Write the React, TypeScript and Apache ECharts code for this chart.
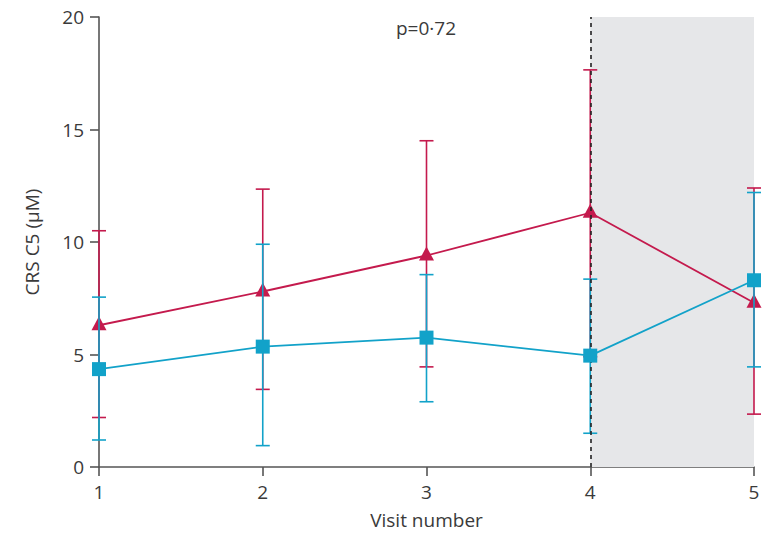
import React, { useEffect, useRef } from "react";
import * as echarts from "echarts";

const visits = [1, 2, 3, 4, 5];
const redMean = [6.3, 7.8, 9.4, 11.3, 7.3];
const redUpper = [10.5, 12.35, 14.5, 17.65, 12.4];
const redLower = [2.2, 3.45, 4.45, 4.9, 2.35];
const blueMean = [4.35, 5.35, 5.75, 4.95, 8.3];
const blueUpper = [7.55, 9.9, 8.55, 8.35, 12.2];
const blueLower = [1.2, 0.95, 2.9, 1.5, 4.45];
const yTicks = [0, 5, 10, 15, 20];
const pText = "p=0·72";

const RED = "#c41a4d";
const BLUE = "#12a2c9";
const FONT = "Open Sans";
const TXT = "#3a3a3a";
const FS = 19;

function errorSeries(upper: number[], lower: number[], color: string, z: number) {
  return {
    type: "custom",
    z,
    silent: true,
    data: visits.map((v, i) => [v, lower[i], upper[i]]),
    encode: { x: 0, y: [1, 2] },
    renderItem: (params: any, api: any) => {
      const x = api.value(0);
      const lo = api.coord([x, api.value(1)]);
      const hi = api.coord([x, api.value(2)]);
      const hw = 7;
      const style = { stroke: color, lineWidth: 1.6 };
      return {
        type: "group",
        children: [
          { type: "line", shape: { x1: lo[0], y1: lo[1], x2: hi[0], y2: hi[1] }, style },
          { type: "line", shape: { x1: lo[0] - hw, y1: lo[1], x2: lo[0] + hw, y2: lo[1] }, style },
          { type: "line", shape: { x1: hi[0] - hw, y1: hi[1], x2: hi[0] + hw, y2: hi[1] }, style },
        ],
      };
    },
  };
}

export default function App() {
  const ref = useRef<HTMLDivElement>(null);
  useEffect(() => {
    if (!ref.current) return;
    const chart = echarts.init(ref.current, null, { renderer: "svg" });
    chart.setOption({
      animation: false,
      textStyle: { fontFamily: FONT },
      grid: { left: 99, right: 14, top: 17, bottom: 66 },
      xAxis: {
        type: "value",
        min: 1,
        max: 5,
        interval: 1,
        name: "Visit number",
        nameLocation: "middle",
        nameGap: 43,
        nameTextStyle: { color: TXT, fontSize: FS, fontFamily: FONT },
        axisLine: { show: true, lineStyle: { color: "#555", width: 1.6 } },
        axisTick: { show: true, length: 9, lineStyle: { color: "#555", width: 1.6 } },
        axisLabel: { color: TXT, fontSize: FS, margin: 15, fontFamily: FONT },
        splitLine: { show: false },
      },
      yAxis: {
        type: "value",
        min: yTicks[0],
        max: yTicks[yTicks.length - 1],
        interval: 5,
        name: "CRS C5 (μM)",
        nameLocation: "middle",
        nameGap: 58,
        nameRotate: 90,
        nameTextStyle: { color: TXT, fontSize: FS, fontFamily: FONT },
        axisLine: { show: true, lineStyle: { color: "#555", width: 1.6 } },
        axisTick: { show: true, length: 9, lineStyle: { color: "#555", width: 1.6 } },
        axisLabel: { color: TXT, fontSize: FS, margin: 15, fontFamily: FONT },
        splitLine: { show: false },
      },
      graphic: [
        {
          type: "text",
          left: 396,
          top: 18,
          style: { text: pText, fontSize: FS, fill: TXT, fontFamily: FONT },
        },
      ],
      series: [
        {
          type: "line",
          data: [],
          z: 0,
          silent: true,
          markArea: {
            silent: true,
            itemStyle: { color: "#e6e7e9" },
            data: [[{ xAxis: 4, yAxis: 0 }, { xAxis: 5, yAxis: 20 }]],
          },
        },
        errorSeries(redUpper, redLower, RED, 2),
        {
          type: "line",
          z: 3,
          data: visits.map((v, i) => [v, redMean[i]]),
          symbol: "triangle",
          symbolSize: [15, 14],
          symbolOffset: [0, -2],
          itemStyle: { color: RED },
          lineStyle: { color: RED, width: 1.8 },
        },
        errorSeries(blueUpper, blueLower, BLUE, 4),
        {
          type: "line",
          z: 5,
          data: visits.map((v, i) => [v, blueMean[i]]),
          symbol: "rect",
          symbolSize: 14,
          itemStyle: { color: BLUE },
          lineStyle: { color: BLUE, width: 1.8 },
        },
        {
          type: "line",
          data: [],
          z: 6,
          markLine: {
            silent: true,
            symbol: "none",
            label: { show: false },
            lineStyle: { color: "#222", type: [4, 4], width: 1.6 },
            data: [[{ coord: [4, 0] }, { coord: [4, 20] }]],
          },
        },
      ],
    });
    return () => chart.dispose();
  }, []);
  return (
    <div
      ref={ref}
      style={{ position: "absolute", left: 0, top: 0, width: 768, height: 534 }}
    />
  );
}
